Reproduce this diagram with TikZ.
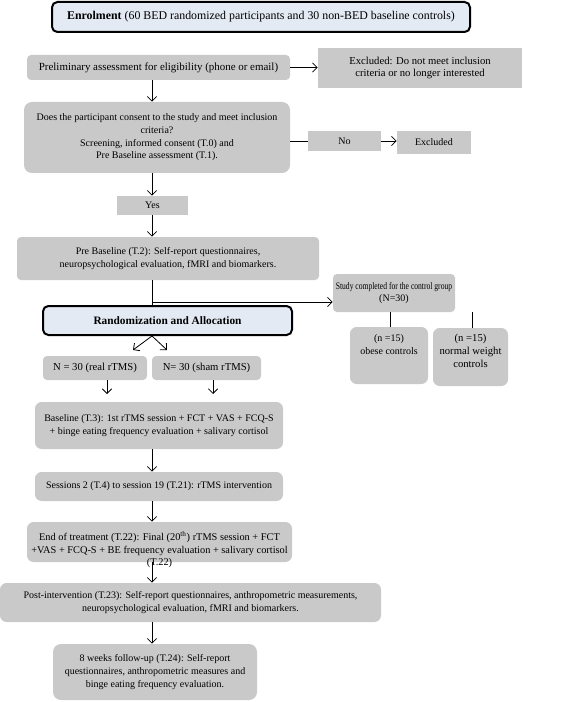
\documentclass[tikz,border=0pt]{standalone}
\usepackage{fontspec}
\setmainfont{Liberation Serif}
\usepackage{tikz}
\usetikzlibrary{arrows.meta,positioning}
\definecolor{boxgray}{HTML}{C9C9C9}
\definecolor{headblue}{HTML}{E4EAF4}

\begin{document}
\begin{tikzpicture}[x=0.75pt,y=-0.75pt,font=\fontsize{7.5}{9.5}\selectfont,
  stepbox/.style={rectangle,rounded corners=3pt,fill=boxgray,draw=none,align=center,inner sep=2pt},
  headbox/.style={rectangle,rounded corners=4pt,draw=black,line width=1.5pt,fill=headblue,align=center,inner sep=2pt},
  arr/.style={-{Straight Barb[length=3.5pt,width=7pt]},line width=0.6pt},
  link/.style={line width=0.6pt}]
\useasboundingbox (0,0) rectangle (567,702);
\coordinate (spine) at (152,0);
\coordinate (fork) at (152,302);
\coordinate (splitL) at (133,350);
\coordinate (splitR) at (167,350);
\coordinate (tipL) at (107,394);
\coordinate (tipR) at (213,394);
\node[headbox,minimum width=313.5pt,minimum height=22.5pt,font=\fontsize{8.9}{11}\selectfont] (enrol) at (261,17) {\textbf{Enrolment} (60 BED randomized participants and 30 non-BED baseline controls)};
\node[stepbox,minimum width=197.25pt,minimum height=18.75pt,font=\fontsize{8.2}{9.5}\selectfont] (prelim) at (158.5,67.5) {Preliminary assessment for eligibility (phone or email)};
\node[stepbox,rounded corners=0pt,minimum width=153pt,minimum height=30pt,font=\fontsize{8}{9.5}\selectfont] (excl1) at (420,68) {Excluded: Do not meet inclusion\\criteria or no longer interested};
\draw[arr] (prelim.east) -- (prelim.east -| excl1.west);
\node[stepbox,rounded corners=6pt,minimum width=199.5pt,minimum height=53.25pt] (consent) at (157,137.5) {Does the participant consent to the study and meet inclusion\\criteria?\\Screening, informed consent (T.0) and\\Pre Baseline assessment (T.1).};
\draw[arr] (spine |- prelim.south) -- (spine |- consent.north);
\node[stepbox,rounded corners=0pt,minimum width=54.75pt,minimum height=15pt] (no) at (344.5,141) {No};
\node[stepbox,rounded corners=0pt,minimum width=55.5pt,minimum height=17.25pt] (excl2) at (434,142.5) {Excluded};
\draw[link] (consent.east |- no) -- (no.west);
\draw[arr] (no.east) -- (no.east -| excl2.west);
\node[stepbox,rounded corners=0pt,minimum width=53.25pt,minimum height=14.25pt] (yes) at (152.5,205.5) {Yes};
\draw[arr] (spine |- consent.south) -- (spine |- yes.north);
\node[stepbox,minimum width=226.5pt,minimum height=32.25pt] (prebase) at (168,258.5) {Pre Baseline (T.2): Self-report questionnaires,\\neuropsychological evaluation, fMRI and biomarkers.};
\draw[arr] (spine |- yes.south) -- (spine |- prebase.north);
\node[stepbox,minimum width=91.5pt,minimum height=28.5pt] (ctrl) at (394,293) {\scalebox{0.76}[1]{Study completed for the control group}\\(N=30)};
\node[stepbox,rounded corners=5pt,minimum width=58.5pt,minimum height=42.75pt] (obese) at (389,355.5) {(n =15)\\obese controls\\[7pt]\mbox{}};
\node[stepbox,rounded corners=5pt,minimum width=56.25pt,minimum height=43.5pt,font=\fontsize{8}{9.5}\selectfont] (normal) at (470.5,357) {(n =15)\\normal weight\\controls\\\mbox{}};
\draw[link] (ctrl.south -| 390,0) -- (obese.north -| 390,0);
\draw[link] (ctrl.south -| 472,0) -- (normal.north -| 472,0);
\node[headbox,minimum width=186.75pt,minimum height=21.75pt,font=\fontsize{8.5}{10}\selectfont\bfseries] (rand) at (167.5,320.5) {Randomization and Allocation};
\draw[link] (spine |- prebase.south) -- (spine |- rand.north);
\draw[arr] (fork) -- (fork -| ctrl.west);
\draw[arr] (spine |- rand.south) -- (splitL);
\draw[arr] (spine |- rand.south) -- (splitR);
\node[stepbox,minimum width=78pt,minimum height=18pt,font=\fontsize{8}{9.5}\selectfont] (real) at (95,368) {N = 30 (real rTMS)};
\node[stepbox,minimum width=81.75pt,minimum height=18pt,font=\fontsize{8}{9.5}\selectfont] (sham) at (206.5,368) {N= 30 (sham rTMS)};
\draw[arr] (real.south -| tipL) -- (tipL);
\draw[arr] (sham.south -| tipR) -- (tipR);
\node[stepbox,rounded corners=5pt,minimum width=186pt,minimum height=35.25pt] (base) at (159,425.5) {Baseline (T.3): 1st rTMS session + FCT + VAS + FCQ-S\\+ binge eating frequency evaluation + salivary cortisol};
\node[stepbox,rounded corners=5pt,minimum width=186pt,minimum height=21.75pt] (sess) at (159,486.5) {Sessions 2 (T.4) to session 19 (T.21): rTMS intervention};
\draw[arr] (spine |- base.south) -- (spine |- sess.north);
\node[stepbox,rounded corners=5pt,minimum width=198.75pt,minimum height=30pt] (endbox) at (159.5,542) {};
\draw[arr] (spine |- sess.south) -- (spine |- endbox.north);
\node[align=center,inner sep=0pt,font=\fontsize{7.75}{9.5}\selectfont] (endtxt) at (159.5,550) {End of treatment (T.22): Final (20\textsuperscript{th}) rTMS session + FCT\\+VAS + FCQ-S + BE frequency evaluation + salivary cortisol\\(T.22)};
\node[stepbox,rounded corners=5pt,minimum width=285.75pt,minimum height=29.25pt] (post) at (190.5,602.5) {Post-intervention (T.23): Self-report questionnaires, anthropometric measurements,\\neuropsychological evaluation, fMRI and biomarkers.};
\draw[arr] (spine |- endbox.south) -- (spine |- post.north);
\node[stepbox,rounded corners=6pt,minimum width=153pt,minimum height=42pt] (follow) at (155,672) {8 weeks follow-up (T.24): Self-report\\questionnaires, anthropometric measures and\\binge eating frequency evaluation.};
\draw[arr] (spine |- post.south) -- (spine |- follow.north);
\end{tikzpicture}
\end{document}
